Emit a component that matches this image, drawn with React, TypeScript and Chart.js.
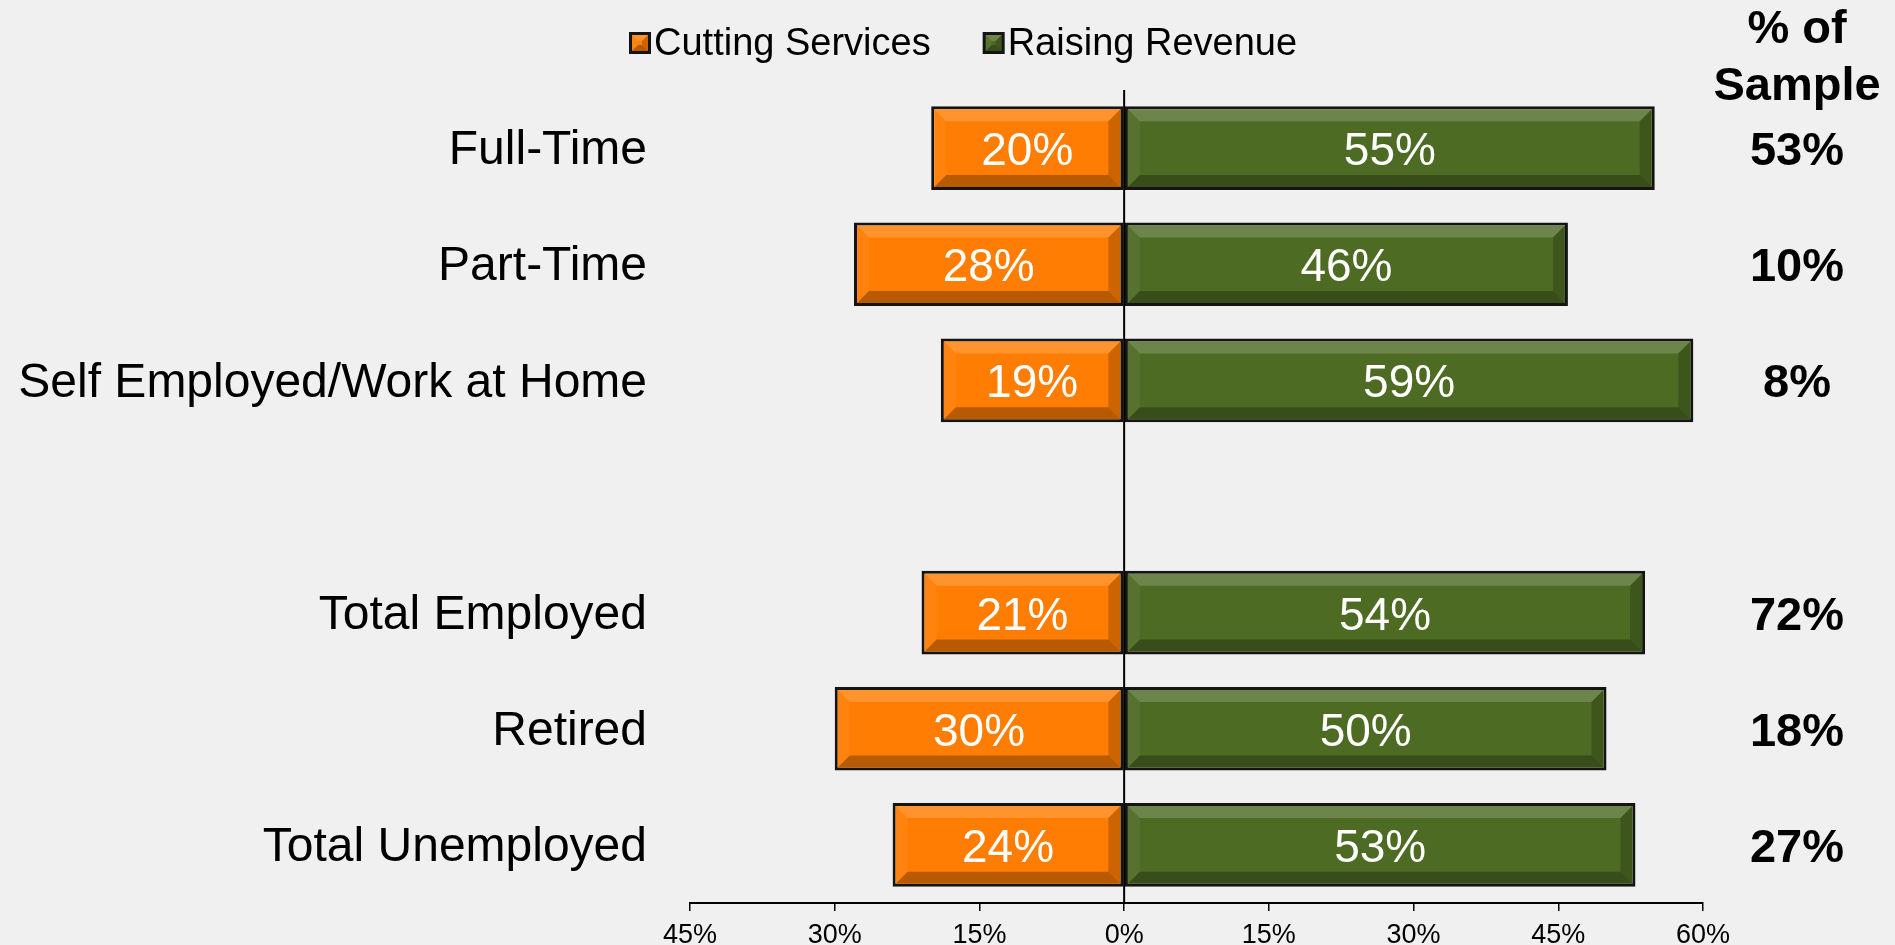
import React, { useEffect, useRef } from 'react';
import { Chart, registerables } from 'chart.js';

Chart.register(...registerables);

const categories = ['Full-Time', 'Part-Time', 'Self Employed/Work at Home', '', 'Total Employed', 'Retired', 'Total Unemployed'];
const seriesNames = ['Cutting Services', 'Raising Revenue'];
const cuttingServices = [-20, -28, -19, null, -21, -30, -24];
const raisingRevenue = [55, 46, 59, null, 54, 50, 53];
const sampleShare = ['53%', '10%', '8%', '', '72%', '18%', '27%'];
const sampleHeader = ['% of', 'Sample'];
const xMin = -45;
const xMax = 60;
const xStep = 15;

const FONT = "'Liberation Sans', Arial, Helvetica, sans-serif";
const ORANGE = '#FF7D02';
const GREEN = '#4E6B24';
const BORDER = '#141414';
const BG = '#F0F0F0';

type Pt = [number, number];

function poly(ctx: CanvasRenderingContext2D, pts: Pt[], fill: string) {
  ctx.beginPath();
  ctx.moveTo(pts[0][0], pts[0][1]);
  for (let i = 1; i < pts.length; i++) ctx.lineTo(pts[i][0], pts[i][1]);
  ctx.closePath();
  ctx.fillStyle = fill;
  ctx.fill();
}

function bevel(ctx: CanvasRenderingContext2D, l: number, t: number, r: number, b: number, size: number) {
  const s = Math.max(0, Math.min(size, (b - t) / 2, (r - l) / 2));
  poly(ctx, [[l, t], [r, t], [r - s, t + s], [l + s, t + s]], 'rgba(255,255,255,0.18)');
  poly(ctx, [[l, b], [r, b], [r - s, b - s], [l + s, b - s]], 'rgba(0,0,0,0.28)');
  poly(ctx, [[l, t], [l + s, t + s], [l + s, b - s], [l, b]], 'rgba(255,255,255,0.05)');
  poly(ctx, [[r, t], [r - s, t + s], [r - s, b - s], [r, b]], 'rgba(0,0,0,0.2)');
}

const decorPlugin = {
  id: 'decor',
  afterDatasetsDraw(chart: any) {
    const ctx: CanvasRenderingContext2D = chart.ctx;
    const xs = chart.scales.x;
    const ys = chart.scales.y;
    const area = chart.chartArea;
    ctx.save();

    chart.data.datasets.forEach((ds: any, di: number) => {
      const meta = chart.getDatasetMeta(di);
      meta.data.forEach((el: any, i: number) => {
        const v = ds.data[i];
        if (v === null || v === undefined) return;
        const p = el.getProps(['x', 'y', 'base', 'height'], true);
        const l = Math.min(p.x, p.base);
        const r = Math.max(p.x, p.base);
        const t = p.y - p.height / 2;
        const b = p.y + p.height / 2;
        const bw = 3;
        bevel(ctx, l + bw, t + bw, r - bw, b - bw, 12);
        ctx.fillStyle = '#FFFFFF';
        ctx.font = `46px ${FONT}`;
        ctx.textAlign = 'center';
        ctx.textBaseline = 'alphabetic';
        ctx.fillText(Math.abs(v) + '%', (l + r) / 2, p.y + 17);
      });
    });

    const x0 = xs.getPixelForValue(0);
    ctx.strokeStyle = '#000';
    ctx.lineWidth = 2;
    ctx.beginPath();
    ctx.moveTo(x0, area.top);
    ctx.lineTo(x0, area.bottom);
    ctx.stroke();

    const colX = 1797;
    ctx.fillStyle = '#000';
    ctx.font = `bold 47px ${FONT}`;
    ctx.textAlign = 'center';
    ctx.textBaseline = 'alphabetic';
    sampleShare.forEach((s, i) => {
      if (!s) return;
      ctx.fillText(s, colX, ys.getPixelForValue(i) + 17);
    });
    ctx.fillText(sampleHeader[0], colX, 43);
    ctx.fillText(sampleHeader[1], colX, 100);

    ctx.font = `38px ${FONT}`;
    ctx.textAlign = 'left';
    const colors = [ORANGE, GREEN];
    let x = 629;
    seriesNames.forEach((name, i) => {
      const bx = x, by = 32, bs = 22;
      ctx.fillStyle = BORDER;
      ctx.fillRect(bx, by, bs, bs);
      ctx.fillStyle = colors[i];
      ctx.fillRect(bx + 3, by + 3, bs - 6, bs - 6);
      bevel(ctx, bx + 3, by + 3, bx + bs - 3, by + bs - 3, 6);
      ctx.fillStyle = '#000';
      ctx.fillText(name, bx + 25, 55);
      x = bx + 25 + ctx.measureText(name).width + 52;
    });

    ctx.restore();
  },
};

export default function App() {
  const ref = useRef<HTMLCanvasElement | null>(null);

  useEffect(() => {
    document.body.style.margin = '0';
    document.body.style.background = BG;
    const canvas = ref.current;
    if (!canvas) return;
    const chart = new Chart(canvas, {
      type: 'bar',
      data: {
        labels: categories,
        datasets: [
          {
            label: seriesNames[0],
            data: cuttingServices as any,
            backgroundColor: ORANGE,
            borderColor: BORDER,
            borderWidth: 3,
            borderSkipped: false,
          },
          {
            label: seriesNames[1],
            data: raisingRevenue as any,
            backgroundColor: GREEN,
            borderColor: BORDER,
            borderWidth: 3,
            borderSkipped: false,
          },
        ],
      },
      options: {
        animation: false,
        responsive: false,
        events: [],
        indexAxis: 'y',
        layout: { padding: { top: 90, right: 192, left: 0, bottom: 0 } },
        datasets: { bar: { barPercentage: 0.72, categoryPercentage: 1 } },
        plugins: { legend: { display: false }, tooltip: { enabled: false } },
        scales: {
          x: {
            stacked: true,
            min: xMin,
            max: xMax,
            ticks: {
              stepSize: xStep,
              callback: (v: any) => Math.abs(Number(v)) + '%',
              font: { family: FONT, size: 27 },
              color: '#000',
              padding: 8,
              maxRotation: 0,
              autoSkip: false,
            },
            grid: { drawOnChartArea: false, drawTicks: true, tickLength: 8, color: '#000', lineWidth: 1.5 },
            border: { display: true, color: '#000', width: 2 },
            afterFit: (s: any) => { s.height = 42; s.paddingLeft = 0; s.paddingRight = 0; },
          },
          y: {
            stacked: true,
            ticks: { font: { family: FONT, size: 48 }, color: '#000', padding: 43, autoSkip: false, labelOffset: 3 },
            grid: { display: false, drawTicks: false },
            border: { display: false },
            afterFit: (s: any) => { s.width = 690; s.paddingTop = 0; s.paddingBottom = 0; },
          },
        },
      },
      plugins: [decorPlugin],
    } as any);
    return () => chart.destroy();
  }, []);

  return (
    <div style={{ width: 1895, height: 945, background: BG, overflow: 'hidden' }}>
      <canvas ref={ref} width={1895} height={945} style={{ display: 'block', width: 1895, height: 945 }} />
    </div>
  );
}
